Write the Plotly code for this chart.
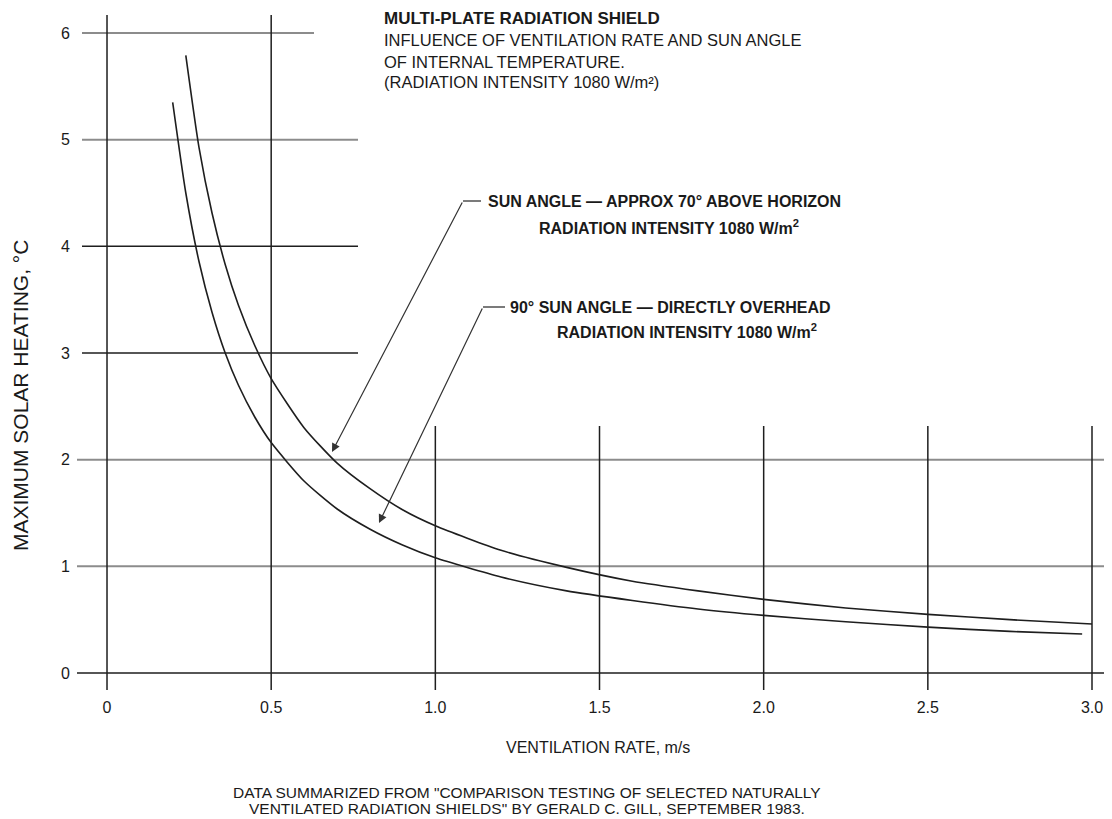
import plotly.graph_objects as go

# ---------------- data ----------------
vent_70 = [0.24, 0.28, 0.32, 0.36, 0.40, 0.45, 0.50, 0.60, 0.70, 0.80, 0.90, 1.00,
           1.20, 1.40, 1.60, 1.80, 2.00, 2.25, 2.50, 2.75, 3.00]
heat_70 = [5.79, 4.93, 4.31, 3.83, 3.45, 3.07, 2.76, 2.30, 1.97, 1.73, 1.53, 1.38,
           1.15, 0.99, 0.86, 0.77, 0.69, 0.61, 0.55, 0.50, 0.46]

vent_90 = [0.20, 0.24, 0.28, 0.32, 0.36, 0.40, 0.45, 0.50, 0.60, 0.70, 0.80, 0.90,
           1.00, 1.20, 1.40, 1.60, 1.80, 2.00, 2.25, 2.50, 2.75, 2.97]
heat_90 = [5.35, 4.50, 3.86, 3.38, 3.00, 2.70, 2.40, 2.16, 1.80, 1.54, 1.35, 1.20,
           1.08, 0.90, 0.77, 0.68, 0.60, 0.54, 0.48, 0.43, 0.39, 0.365]

x_ticks = [0, 0.5, 1.0, 1.5, 2.0, 2.5, 3.0]
x_tick_labels = ["0", "0.5", "1.0", "1.5", "2.0", "2.5", "3.0"]
y_ticks = [0, 1, 2, 3, 4, 5, 6]
y_tick_labels = ["0", "1", "2", "3", "4", "5", "6"]

# ---------------- layout geometry (page pixels) ----------------
PAGE_W, PAGE_H = 1112, 819
OFF = 8                      # default body margin of the html page
FIG_W, FIG_H = PAGE_W - OFF, PAGE_H - OFF
L, R, T, B = 77, 1112, 15, 690   # plot area in page pixels
X_RANGE = [-0.0914, 3.0609]
Y_RANGE = [-0.1594, 6.1687]


def px2x(p):
    return X_RANGE[0] + (p - L) / (R - L) * (X_RANGE[1] - X_RANGE[0])


def px2y(p):
    return Y_RANGE[0] + (B - p) / (B - T) * (Y_RANGE[1] - Y_RANGE[0])


def pap_x(p):
    return (p - L) / (R - L)


def pap_y(p):
    return (B - p) / (B - T)


FONT = "Liberation Sans, Arial, Helvetica, sans-serif"
TXT = "#1a1a1a"
DARK = "#1e1e1e"
GRAY = "#8c8c8c"

fig = go.Figure()

fig.add_trace(go.Scatter(x=vent_70, y=heat_70, mode="lines",
                         line=dict(color=DARK, width=1.6, shape="spline", smoothing=0.6),
                         hoverinfo="skip", showlegend=False))
fig.add_trace(go.Scatter(x=vent_90, y=heat_90, mode="lines",
                         line=dict(color=DARK, width=1.6, shape="spline", smoothing=0.6),
                         hoverinfo="skip", showlegend=False))

shapes = []
# horizontal grid lines (partial, as in the original drawing)
for yv in y_ticks:
    if yv <= 2:
        x0, x1 = X_RANGE[0], X_RANGE[1]
    elif yv == 6:
        x0, x1 = px2x(82), px2x(314)
    else:
        x0, x1 = px2x(82), px2x(358)
    col = DARK if yv in (0, 3, 4) else GRAY
    w = 1.5 if col == DARK else 2
    shapes.append(dict(type="line", xref="x", yref="y", x0=x0, x1=x1, y0=yv, y1=yv,
                       line=dict(color=col, width=w), layer="below"))
# vertical grid lines
for xv in x_ticks:
    y1 = Y_RANGE[1] if xv <= 0.5 else px2y(426)
    shapes.append(dict(type="line", xref="x", yref="y", x0=xv, x1=xv, y0=Y_RANGE[0], y1=y1,
                       line=dict(color=DARK, width=1.5), layer="below"))

# leader lines
tail1 = (px2x(463), px2y(201))
tip1 = (px2x(332), px2y(452))
tail2 = (px2x(483), px2y(307))
tip2 = (px2x(379), px2y(523))
shapes.append(dict(type="line", xref="x", yref="y", x0=tail1[0], x1=px2x(481),
                   y0=tail1[1], y1=tail1[1], line=dict(color="#333", width=1.3)))
shapes.append(dict(type="line", xref="x", yref="y", x0=tail2[0], x1=px2x(505),
                   y0=tail2[1], y1=tail2[1], line=dict(color="#333", width=1.3)))

annotations = []
for tail, tip in ((tail1, tip1), (tail2, tip2)):
    annotations.append(dict(x=tip[0], y=tip[1], ax=tail[0], ay=tail[1], xref="x", yref="y",
                            axref="x", ayref="y", text="", showarrow=True, arrowhead=2,
                            arrowsize=1.4, arrowwidth=1.2, arrowcolor="#333", standoff=0))


def txt(x, y, s, size=16, anchor="left", angle=0):
    annotations.append(dict(x=pap_x(x), y=pap_y(y), xref="paper", yref="paper", text=s,
                            showarrow=False, xanchor=anchor, yanchor="middle",
                            textangle=angle, font=dict(family=FONT, size=size, color=TXT)))


# title block
txt(382, 19, "<b>MULTI-PLATE RADIATION SHIELD</b>", 17)
txt(382, 40, "INFLUENCE OF VENTILATION RATE AND SUN ANGLE", 16.5)
txt(382, 62, "OF INTERNAL TEMPERATURE.", 16.5)
txt(382, 82, "(RADIATION INTENSITY 1080 W/m²)", 16.5)

# curve labels
txt(486, 201, "<b>SUN ANGLE — APPROX 70° ABOVE HORIZON</b>", 16)
txt(669, 227, "<b>RADIATION INTENSITY 1080 W/m<sup>2</sup></b>", 16, "center")
txt(508, 307, "<b>90° SUN ANGLE — DIRECTLY OVERHEAD</b>", 16)
txt(687, 331, "<b>RADIATION INTENSITY 1080 W/m<sup>2</sup></b>", 16, "center")

# axis titles
txt(598, 747, "VENTILATION RATE, m/s", 16, "center")
txt(20, 396, "MAXIMUM SOLAR HEATING, °C", 21, "center", -90)

# source note
txt(527, 792, "DATA SUMMARIZED FROM \"COMPARISON TESTING OF SELECTED NATURALLY", 15.5, "center")
txt(527, 809, "VENTILATED RADIATION SHIELDS\" BY GERALD C. GILL, SEPTEMBER 1983.", 15.5, "center")

fig.update_layout(
    width=FIG_W, height=FIG_H,
    margin=dict(l=L - OFF, r=PAGE_W - R, t=T - OFF, b=PAGE_H - B, autoexpand=False),
    paper_bgcolor="white", plot_bgcolor="white",
    shapes=shapes, annotations=annotations,
    font=dict(family=FONT, size=16, color=TXT),
    xaxis=dict(range=X_RANGE, tickvals=x_ticks, ticktext=x_tick_labels, showgrid=False,
               zeroline=False, showline=False, ticks="", ticklabelstandoff=6,
               tickfont=dict(size=16, color=TXT, family=FONT), fixedrange=True),
    yaxis=dict(range=Y_RANGE, tickvals=y_ticks, ticktext=y_tick_labels, showgrid=False,
               zeroline=False, showline=False, ticks="", ticklabelstandoff=6,
               tickfont=dict(size=16, color=TXT, family=FONT), fixedrange=True),
)

fig.write_html("out.html")
